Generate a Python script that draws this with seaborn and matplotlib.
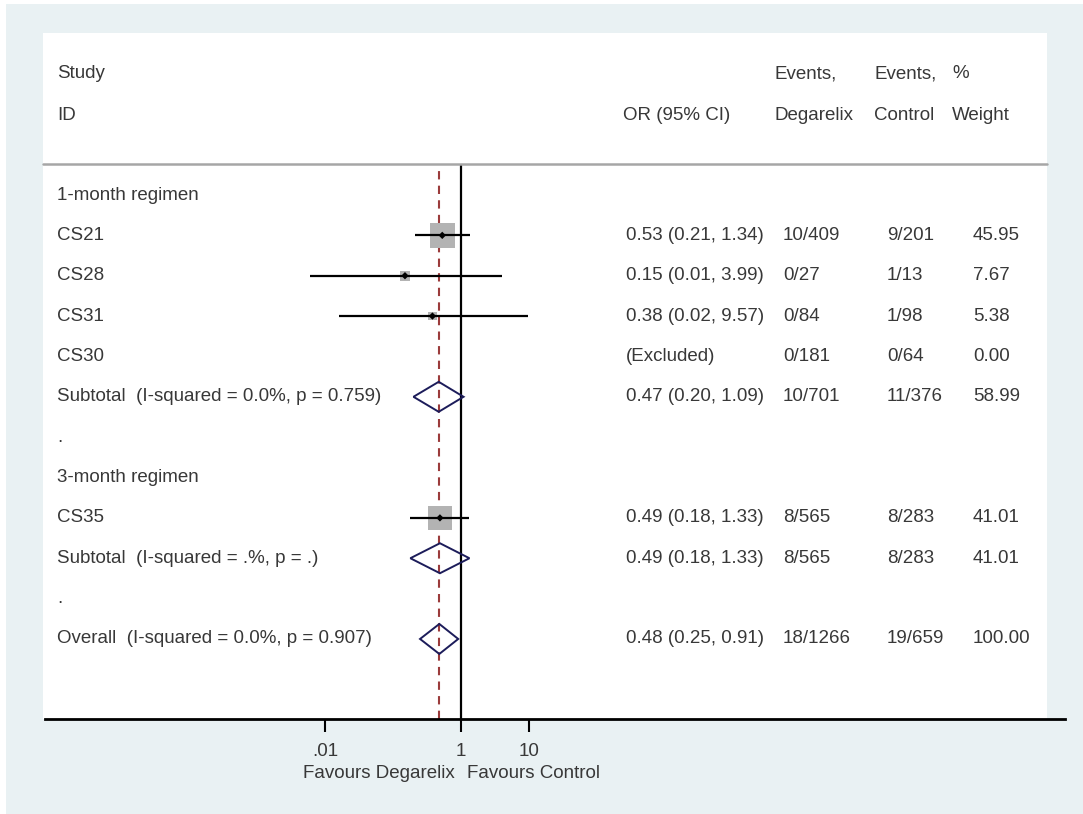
import numpy as np
import pandas as pd
import matplotlib
matplotlib.use("Agg")
import matplotlib.pyplot as plt
import matplotlib.transforms as mtransforms
from matplotlib.patches import Rectangle
import seaborn as sns

# rows of the forest plot, top to bottom
row_labels = ["1-month regimen", "CS21", "CS28", "CS31", "CS30",
              "Subtotal  (I-squared = 0.0%, p = 0.759)", ".",
              "3-month regimen", "CS35",
              "Subtotal  (I-squared = .%, p = .)", ".",
              "Overall  (I-squared = 0.0%, p = 0.907)"]
or_text = ["", "0.53 (0.21, 1.34)", "0.15 (0.01, 3.99)", "0.38 (0.02, 9.57)", "(Excluded)",
           "0.47 (0.20, 1.09)", "", "", "0.49 (0.18, 1.33)", "0.49 (0.18, 1.33)", "",
           "0.48 (0.25, 0.91)"]
events_deg = ["", "10/409", "0/27", "0/84", "0/181", "10/701", "", "", "8/565", "8/565", "", "18/1266"]
events_ctl = ["", "9/201", "1/13", "1/98", "0/64", "11/376", "", "", "8/283", "8/283", "", "19/659"]
weight_text = ["", "45.95", "7.67", "5.38", "0.00", "58.99", "", "", "41.01", "41.01", "", "100.00"]

# individual studies (row index, OR, lower, upper, weight)
study_rows = [1, 2, 3, 8]
study_or = [0.53, 0.15, 0.38, 0.49]
study_lo = [0.21, 0.006, 0.016, 0.18]
study_hi = [1.34, 3.99, 9.57, 1.33]
study_w = [45.95, 7.67, 5.38, 41.01]

# pooled estimates (diamonds)
pool_rows = [5, 9, 11]
pool_or = [0.47, 0.49, 0.48]
pool_lo = [0.20, 0.18, 0.25]
pool_hi = [1.09, 1.33, 0.91]
overall_or = 0.48

xticks = [0.01, 1, 10]
xticklabels = [".01", "1", "10"]

W, H = 1083, 814
DPI = 100
sns.set_theme(style="white")
plt.rcParams['font.family'] = ['Liberation Sans', 'DejaVu Sans']
txt_color = "#383838"
fs = 13.5

fig = plt.figure(figsize=(W / DPI, H / DPI), dpi=DPI, facecolor="white")
# outer Stata background and white plot region
fig.patches.append(Rectangle((6 / W, 0), 1 - 6 / W, 1 - 4 / H, transform=fig.transFigure,
                             facecolor="#e9f1f3", edgecolor="none", zorder=-3))
fig.patches.append(Rectangle((43 / W, 1 - 719 / H), (1047 - 43) / W, (719 - 33) / H,
                             transform=fig.transFigure, facecolor="white",
                             edgecolor="none", zorder=-2))

# axes: left 45px, right 1065px, top 164px, bottom 719px
ax = fig.add_axes([45 / W, 1 - 719 / H, (1065 - 45) / W, (719 - 164) / H])
ax.set_facecolor("none")
ax.set_xscale("log")
ax.set_xlim(10 ** (-416 / 68), 10 ** (604 / 68))
row0, step = 195, 40.36
ax.set_ylim((719 - row0) / step, (164 - row0) / step)

# reference lines
ax.axvline(1, color="black", lw=1.6, zorder=1)
ax.axvline(overall_or, color="#9b3b3b", lw=1.5, ls=(0, (4, 3)), zorder=1)

# confidence interval lines
ax.hlines(study_rows, study_lo, study_hi, color="black", lw=1.6, zorder=3)

# weighted boxes and point estimates
df = pd.DataFrame({"or": study_or, "row": study_rows, "w": study_w})
box_pt = 3.7 * np.sqrt(df["w"]) * 72 / DPI
sns.scatterplot(data=df, x="or", y="row", marker="s", s=box_pt ** 2, color="#b3b3b3",
                edgecolor="none", ax=ax, zorder=2, legend=False)
sns.scatterplot(data=df, x="or", y="row", marker="D", s=14, color="black",
                edgecolor="none", ax=ax, zorder=4, legend=False)

# diamonds for pooled estimates
hh = 15 / step
for r, m, lo, hi in zip(pool_rows, pool_or, pool_lo, pool_hi):
    ax.fill([lo, m, hi, m, lo], [r, r - hh, r, r + hh, r], facecolor="none",
            edgecolor="#1c1c5a", lw=1.4, zorder=5)

# axis styling
for s in ["top", "left", "right"]:
    ax.spines[s].set_visible(False)
ax.spines["bottom"].set_linewidth(2)
ax.spines["bottom"].set_color("black")
ax.set_yticks([])
ax.set_xticks(xticks)
ax.set_xticklabels(xticklabels)
ax.xaxis.set_minor_locator(matplotlib.ticker.NullLocator())
ax.tick_params(axis="x", bottom=True, length=9, width=1.5, pad=8,
               labelsize=fs, labelcolor=txt_color, color="black")
ax.set_xlabel("")
ax.set_ylabel("")

# table text: x in figure pixels, y in data rows
trans = mtransforms.blended_transform_factory(fig.transFigure, ax.transData)
cols = [(57, row_labels), (626, or_text), (783, events_deg), (887, events_ctl), (973, weight_text)]
for px, texts in cols:
    for i, t in enumerate(texts):
        if t:
            ax.text(px / W, i, t, transform=trans, ha="left", va="center",
                    fontsize=fs, color=txt_color, clip_on=False)

# header
hdr = [(57, 74, "Study"), (57, 115, "ID"), (623, 115, "OR (95% CI)"),
       (775, 74, "Events,"), (775, 115, "Degarelix"), (874, 74, "Events,"),
       (874, 115, "Control"), (952, 74, "%"), (952, 115, "Weight")]
for px, py, t in hdr:
    fig.text(px / W, 1 - py / H, t, ha="left", va="center", fontsize=fs, color=txt_color)

# separator under header
fig.add_artist(plt.Line2D([43 / W, 1047 / W], [1 - 164 / H, 1 - 164 / H],
                          transform=fig.transFigure, color="#a6a6a6", lw=1.8))

# favours labels
fig.text(455 / W, 1 - 773 / H, "Favours Degarelix", ha="right", va="center",
         fontsize=fs, color=txt_color)
fig.text(467 / W, 1 - 773 / H, "Favours Control", ha="left", va="center",
         fontsize=fs, color=txt_color)

fig.savefig("out.png", dpi=DPI, facecolor=fig.get_facecolor())
